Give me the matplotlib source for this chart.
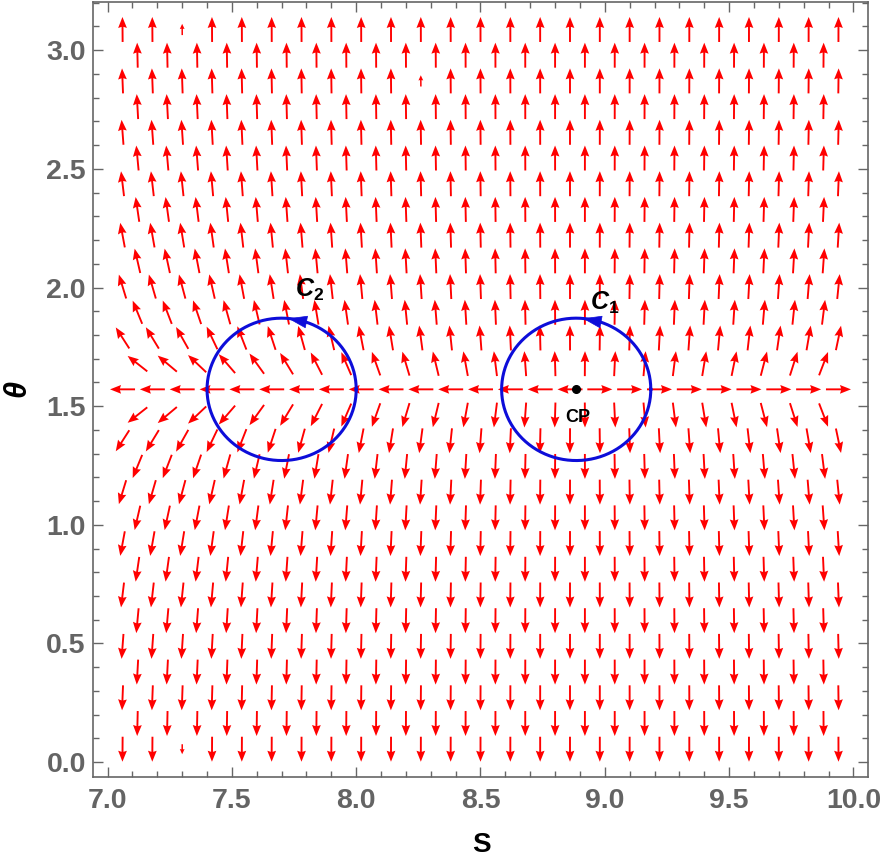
import numpy as np
import matplotlib
matplotlib.use("Agg")
import matplotlib.pyplot as plt
from matplotlib.ticker import MultipleLocator

plt.rcParams['font.family'] = ['Liberation Sans', 'DejaVu Sans']
plt.rcParams['font.weight'] = 'bold'
plt.rcParams['mathtext.fontset'] = 'custom'
plt.rcParams['mathtext.it'] = 'Liberation Sans:bold:italic'
plt.rcParams['mathtext.rm'] = 'Liberation Sans:bold'
plt.rcParams['mathtext.bf'] = 'Liberation Sans:bold'

# ---------------- data ----------------
# S sample positions of the hexagonal arrow grid (even index: full rows, odd: shifted rows)
S_samples = np.round(7.06 + 0.06 * np.arange(49), 2)
# horizontal component phi^S read from arrow tilts (relative to phi^theta below)
phi_S = [-0.135, -0.132, -0.128, -0.124, -0.118, -0.110, -0.100, -0.090, -0.082,
         -0.075, -0.069, -0.063, -0.058, -0.053, -0.049, -0.045, -0.041, -0.037,
         -0.034, -0.031, -0.028, -0.025, -0.022, -0.019, -0.016, -0.013, -0.010,
         -0.0075, -0.005, -0.003, -0.001, 0.0008, 0.003, 0.005, 0.007, 0.009,
         0.011, 0.013, 0.015, 0.017, 0.019, 0.021, 0.024, 0.027, 0.030, 0.033,
         0.036, 0.040, 0.044]
# theta rows of the grid and their vertical component phi^theta
n_rows = 29
theta_rows = (np.arange(n_rows) + 0.5) * np.pi / n_rows
phi_theta = [-18.44, -6.086, -3.602, -2.510, -1.886, -1.478, -1.177, -0.947,
             -0.760, -0.602, -0.463, -0.337, -0.220, -0.109, 0.0,
             0.109, 0.220, 0.337, 0.463, 0.602, 0.760, 0.947, 1.177, 1.478,
             1.886, 2.510, 3.602, 6.086, 18.44]
# arrows drawn shorter in the original
short_S = [7.30, 7.30, 8.26]
short_row = [0, 28, 26]
short_scale = [0.40, 0.45, 0.45]

# loops and critical point
cp_S, cp_theta = 8.885, np.pi / 2
loop_centers = [8.885, 7.70]
loop_names = [r'$C_1$', r'$C_2$']
loop_radius = 0.30

# ---------------- figure ----------------
fig = plt.figure(figsize=(8.8, 8.61), dpi=100)
ax = fig.add_axes([92.7 / 880, 1 - 777 / 861, (868.3 - 92.7) / 880, (777 - 1.7) / 861])
ax.set_xlim(6.94, 10.06)
ax.set_ylim(-0.02 * np.pi, 1.02 * np.pi)

X, Y, U, V, L = [], [], [], [], []
for j in range(n_rows):
    start = 0 if j % 2 == 0 else 1
    for i in range(start, len(S_samples), 2):
        s = S_samples[i]
        u, v = phi_S[i], phi_theta[j]
        m = np.hypot(u, v)
        f = 1.0
        for ss, rr, sc in zip(short_S, short_row, short_scale):
            if rr == j and abs(ss - s) < 1e-6:
                f = sc
        X.append(s); Y.append(theta_rows[j]); U.append(u / m * f); V.append(v / m * f); L.append(f)
X, Y, U, V, L = map(np.array, (X, Y, U, V, L))
full = L == 1.0
ax.quiver(X[full], Y[full], U[full], V[full], angles='xy', scale_units='inches',
          scale=4.0, pivot='middle', color='#ff0000', units='inches', width=0.019,
          headwidth=4.6, headlength=5.8, headaxislength=5.2, zorder=2)
ax.quiver(X[~full], Y[~full], U[~full], V[~full], angles='xy', scale_units='inches',
          scale=4.0, pivot='middle', color='#ff0000', units='inches', width=0.015,
          headwidth=3.2, headlength=3.5, headaxislength=3.2, zorder=2)

blue = '#0d0dd9'
t = np.linspace(0, 2 * np.pi, 400)
for c in loop_centers:
    ax.plot(c + loop_radius * np.cos(t), np.pi / 2 + loop_radius * np.sin(t),
            color=blue, lw=2.2, zorder=3)
    tb, tt = np.deg2rad(72), np.deg2rad(85)
    ax.annotate('', xy=(c + loop_radius * np.cos(tt), np.pi / 2 + loop_radius * np.sin(tt)),
                xytext=(c + loop_radius * np.cos(tb), np.pi / 2 + loop_radius * np.sin(tb)),
                arrowprops=dict(arrowstyle='-|>,head_length=0.42,head_width=0.14',
                                mutation_scale=30, color=blue, lw=0.5,
                                shrinkA=0, shrinkB=0), zorder=4)

ax.text(8.942, 1.905, loop_names[0], fontsize=18, ha='left', va='baseline', color='black')
ax.text(7.754, 1.961, loop_names[1], fontsize=18, ha='left', va='baseline', color='black')

ax.plot([cp_S], [cp_theta], 'o', color='black', ms=5.5, zorder=5)
ax.text(cp_S + 0.007, 1.435, 'CP', fontsize=13, ha='center', va='baseline', color='black')

# axes styling
ax.xaxis.set_major_locator(MultipleLocator(0.5))
ax.xaxis.set_minor_locator(MultipleLocator(0.1))
ax.yaxis.set_major_locator(MultipleLocator(0.5))
ax.yaxis.set_minor_locator(MultipleLocator(0.1))
ax.tick_params(which='both', direction='in', top=True, right=True, color='#666666', width=1.0)
ax.tick_params(which='major', length=7)
ax.tick_params(which='minor', length=4)
ax.tick_params(axis='x', which='major', labelsize=20.5, labelcolor='#646464', pad=8)
ax.tick_params(axis='y', which='major', labelsize=20.5, labelcolor='#646464', pad=5)
for lab in ax.get_xticklabels() + ax.get_yticklabels():
    lab.set_fontweight('bold')
for sp in ax.spines.values():
    sp.set_color('#666666')
    sp.set_linewidth(1.2)

fig.text(481 / 880, 1 - 852 / 861, 'S', fontsize=20, fontweight='bold', ha='center',
         va='baseline', color='black')
fig.text(17 / 880, 1 - 388 / 861, 'θ', fontsize=22, fontweight='bold', fontstyle='italic',
         rotation=90, ha='center', va='center', color='black')

fig.savefig('out.png', dpi=100)
